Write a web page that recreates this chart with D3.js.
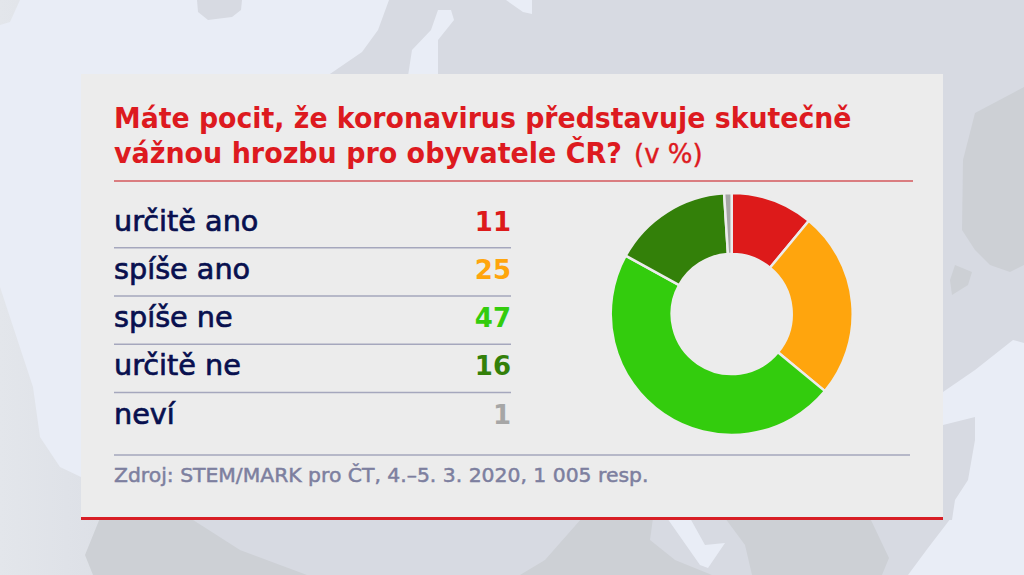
<!DOCTYPE html>
<html>
<head>
<meta charset="utf-8">
<script src="https://d3js.org/d3.v7.min.js"></script>
<style>
html, body { margin: 0; padding: 0; background: #e9edf6; overflow: hidden; }
text { font-family: "DejaVu Sans", sans-serif; }
</style>
</head>
<body>
<svg width="1024" height="575"></svg>
<script>
var categories = ["určitě ano", "spíše ano", "spíše ne", "určitě ne", "neví"];
var values = [11, 25, 47, 16, 1];
var colors = ["#dd1a1a", "#ffa50d", "#33cc0d", "#338009", "#a6a6a6"];
var titleLines = ["Máte pocit, že koronavirus představuje skutečně", "vážnou hrozbu pro obyvatele ČR?"];
var titleUnit = "(v %)";
var source = "Zdroj: STEM/MARK pro ČT, 4.–5. 3. 2020, 1 005 resp.";

// rough outlines of the map behind the panel
var land = [
  "M389,0 L378,30 L362,52 L327,76 L408,76 L412,50 L431,30 L438,10 L451,10 L454,20 L438,40 L438,76 L1024,76 L1024,0 L532,0 L532,14 L523,12 L506,0 Z",
  "M197,0 L242,0 L241,10 L232,17 L208,20 L198,12 Z",
  "M0,0 L20,0 L10,22 L0,25 Z",
  "M943,74 L1024,74 L1024,343 L1013,340 L975,370 L943,392 Z",
  "M0,287 L33,387 L40,437 L60,467 L81,477 L81,575 L0,575 Z",
  "M943,425 L975,417 L975,440 L968,480 L955,500 L952,520 L943,520 Z",
  "M81,518 L951,518 L928,548 L908,575 L81,575 Z"
];
var darkLand = [
  "M100,518 L190,518 L240,550 L307,575 L93,575 L85,555 Z",
  "M582,518 L653,518 L650,540 L675,560 L712,575 L520,575 L545,560 Z",
  "M725,518 L870,518 L889,558 L882,575 L752,575 L745,545 Z",
  "M1024,87 L975,113 L963,160 L962,230 L975,250 L990,265 L1010,272 L1024,265 Z",
  "M955,265 L972,272 L968,285 L952,295 L950,280 Z"
];
var seaPatch = "M667,518 L690,518 L705,545 L725,543 L708,568 L700,565 Z";

var svg = d3.select("svg");

var grad = svg.append("defs").append("linearGradient")
    .attr("id", "landfill")
    .attr("gradientUnits", "userSpaceOnUse")
    .attr("x1", 0).attr("x2", 200).attr("y1", 0).attr("y2", 0);
grad.append("stop").attr("offset", 0).attr("stop-color", "#e3e6eb");
grad.append("stop").attr("offset", 1).attr("stop-color", "#d7dae2");

svg.append("rect").attr("width", 1024).attr("height", 575).attr("fill", "#e9edf6");

svg.append("g").selectAll("path").data(land).enter().append("path")
    .attr("d", function(d) { return d; })
    .attr("fill", "url(#landfill)");
svg.append("g").selectAll("path").data(darkLand).enter().append("path")
    .attr("d", function(d) { return d; })
    .attr("fill", "#cdd0d5");
svg.append("path").attr("d", seaPatch).attr("fill", "#e9edf6");

// panel
svg.append("rect")
    .attr("x", 81).attr("y", 74)
    .attr("width", 862).attr("height", 444)
    .attr("fill", "#ececec");
svg.append("rect")
    .attr("x", 81).attr("y", 517)
    .attr("width", 862).attr("height", 3)
    .attr("fill", "#d81e25");

// title, squeezed horizontally to the width of the original lettering
var titleWidths = [738, 508];
svg.selectAll(".title").data(titleLines).enter().append("text")
    .attr("class", "title")
    .attr("fill", "#dd1a1f")
    .attr("font-size", 27.5)
    .attr("font-weight", "bold")
    .text(function(d) { return d; })
    .attr("transform", function(d, i) {
        var k = titleWidths[i] / this.getComputedTextLength();
        return "translate(114," + (128 + i * 34.7) + ") scale(" + k + ",1)";
    });

svg.append("text")
    .attr("x", 634)
    .attr("y", 162.7)
    .attr("fill", "#dd1a1f")
    .attr("stroke", "#dd1a1f")
    .attr("stroke-width", 0.4)
    .attr("font-size", 26)
    .text(titleUnit);

svg.append("line")
    .attr("x1", 114).attr("x2", 913)
    .attr("y1", 181).attr("y2", 181)
    .attr("stroke", "#d4585c").attr("stroke-width", 1.5);

// table rows
var rowY = d3.scalePoint().domain(categories).range([221, 414]);

var rows = svg.selectAll(".row").data(categories).enter().append("g")
    .attr("class", "row")
    .attr("transform", function(d) { return "translate(0," + rowY(d) + ")"; });

rows.append("text")
    .attr("x", 114)
    .attr("y", 9.7)
    .attr("fill", "#08104f")
    .attr("stroke", "#08104f")
    .attr("stroke-width", 0.7)
    .attr("font-size", 28.7)
    .text(function(d) { return d; });

rows.append("text")
    .attr("x", 511)
    .attr("y", 9.7)
    .attr("text-anchor", "end")
    .attr("fill", function(d, i) { return colors[i]; })
    .attr("font-size", 26)
    .attr("font-weight", "bold")
    .text(function(d, i) { return values[i]; });

rows.filter(function(d, i) { return i < categories.length - 1; }).append("line")
    .attr("x1", 114).attr("x2", 511)
    .attr("y1", 26.7).attr("y2", 26.7)
    .attr("stroke", "#a5a7bd").attr("stroke-width", 1.5);

// donut
var pie = d3.pie().sort(null);
var arc = d3.arc().innerRadius(60).outerRadius(121);

svg.append("g")
    .attr("transform", "translate(731.7,314)")
    .selectAll("path").data(pie(values)).enter().append("path")
    .attr("d", arc)
    .attr("fill", function(d, i) { return colors[i]; })
    .attr("stroke", "#ececec")
    .attr("stroke-width", 2.5);

// source
svg.append("line")
    .attr("x1", 114).attr("x2", 910)
    .attr("y1", 455).attr("y2", 455)
    .attr("stroke", "#a5a7bd").attr("stroke-width", 1.5);

svg.append("text")
    .attr("fill", "#7d7f9f")
    .attr("stroke", "#7d7f9f")
    .attr("stroke-width", 0.5)
    .attr("font-size", 20)
    .text(source)
    .attr("transform", function() {
        return "translate(114,481.7) scale(" + (535 / this.getComputedTextLength()) + ",1)";
    });
</script>
</body>
</html>
